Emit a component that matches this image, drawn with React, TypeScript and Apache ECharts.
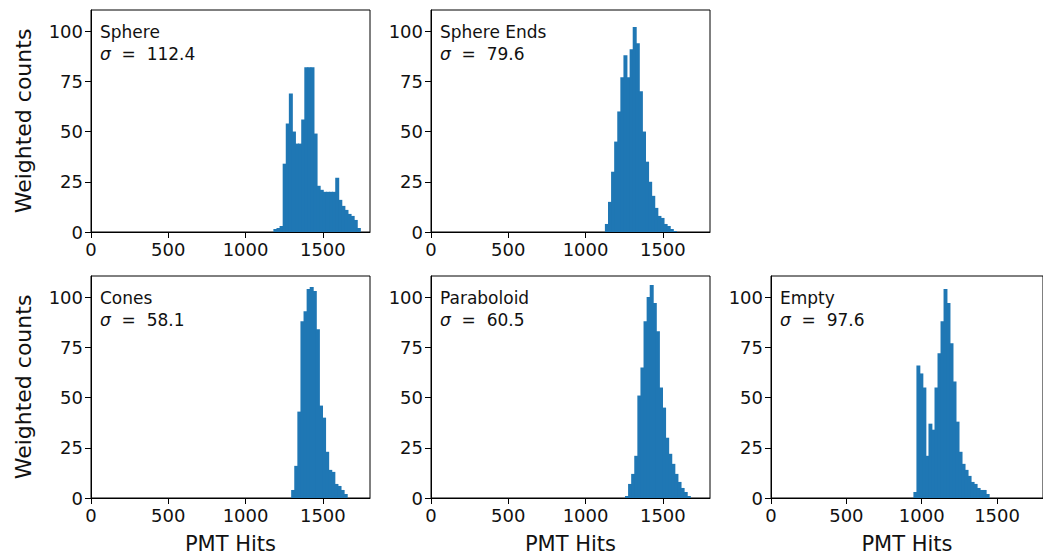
import React, { useEffect, useRef } from "react";
import * as echarts from "echarts";

// ---- data ----
const panelNames = ["Sphere", "Sphere Ends", "Cones", "Paraboloid", "Empty"];
const sigmaLabels = ["112.4", "79.6", "58.1", "60.5", "97.6"];

const BIN = 20;

const sphereEdges = [1180, 1200, 1220, 1240, 1260, 1280, 1300, 1320, 1340, 1360, 1380, 1400, 1420, 1440, 1460, 1480, 1500, 1520, 1540, 1560, 1580, 1600, 1620, 1640, 1660, 1680, 1700, 1720];
const sphereCounts = [1.5, 2, 3, 34, 54, 69, 50, 44, 44, 56, 82, 82, 82, 49, 23, 21, 20, 20, 20, 20, 27, 16, 13, 11, 9, 8, 6, 2];

const sphereEndsEdges = [1125, 1145, 1165, 1185, 1205, 1225, 1245, 1265, 1285, 1305, 1325, 1345, 1365, 1385, 1405, 1425, 1445, 1465, 1485, 1505, 1525, 1545, 1565];
const sphereEndsCounts = [4, 15, 30, 45, 60, 77, 88, 77, 91, 102, 94, 70, 50, 35, 25, 18, 12, 8, 7, 4, 3, 1.5, 0.5];

const conesEdges = [1295, 1315, 1335, 1355, 1375, 1395, 1415, 1435, 1455, 1475, 1495, 1515, 1535, 1555, 1575, 1595, 1615, 1635];
const conesCounts = [4, 16, 43, 88, 93, 104, 105, 103, 84, 46, 40, 23, 14, 13, 7, 6, 4, 2];

const paraboloidEdges = [1255, 1275, 1295, 1315, 1335, 1355, 1375, 1395, 1415, 1435, 1455, 1475, 1495, 1515, 1535, 1555, 1575, 1595, 1615, 1635, 1655];
const paraboloidCounts = [1, 7, 12, 21, 51, 65, 88, 100, 106, 97, 83, 55, 45, 30, 22, 17, 12, 8, 5, 3, 1];

const emptyEdges = [945, 965, 985, 1005, 1025, 1045, 1065, 1085, 1105, 1125, 1145, 1165, 1185, 1205, 1225, 1245, 1265, 1285, 1305, 1325, 1345, 1365, 1385, 1405, 1425];
const emptyCounts = [3, 66, 62, 55, 21, 37, 34, 55, 72, 88, 104, 97, 77, 58, 38, 23, 17, 14, 11, 8, 7, 5, 4, 4, 2];

const xTicks = [0, 500, 1000, 1500];
const yTicks = [0, 25, 50, 75, 100];
const X_MAX = 1805;
const Y_MAX = 110.5;

const xLabel = "PMT Hits";
const yLabel = "Weighted counts";

// ---- layout ----
const FONT = "DejaVu Sans";
const COLS = [91, 431, 771];
const ROWS = [10, 276];
const PW = 279;
const PH = 222;
const BAR = "#1f77b4";
const TXT = "#111";
const NB = "\u00a0";

const panels = [
  { edges: sphereEdges, counts: sphereCounts, col: 0, row: 0 },
  { edges: sphereEndsEdges, counts: sphereEndsCounts, col: 1, row: 0 },
  { edges: conesEdges, counts: conesCounts, col: 0, row: 1 },
  { edges: paraboloidEdges, counts: paraboloidCounts, col: 1, row: 1 },
  { edges: emptyEdges, counts: emptyCounts, col: 2, row: 1 },
];

export default function App() {
  const ref = useRef<HTMLDivElement>(null);
  useEffect(() => {
    if (!ref.current) return;
    const chart = echarts.init(ref.current, undefined, { renderer: "svg" });
    const grid = panels.map((p) => ({
      left: COLS[p.col],
      top: ROWS[p.row],
      width: PW,
      height: PH,
      show: true,
      borderColor: "#000",
      borderWidth: 1,
      backgroundColor: "transparent",
    }));
    const xAxis = panels.map((p, i) => ({
      gridIndex: i,
      type: "value",
      min: 0,
      max: X_MAX,
      z: 5,
      axisLine: { show: true, onZero: false, lineStyle: { color: "#000", width: 1 } },
      axisTick: { show: true, length: 6, lineStyle: { color: "#000", width: 1 }, customValues: xTicks },
      axisLabel: {
        customValues: xTicks,
        formatter: (v: number) => String(v),
        color: TXT,
        fontFamily: FONT,
        fontSize: 18,
        margin: 8,
      },
      splitLine: { show: false },
      name: p.row === 1 ? xLabel : "",
      nameLocation: "middle",
      nameGap: 35,
      nameTextStyle: { color: TXT, fontFamily: FONT, fontSize: 21 },
    }));
    const yAxis = panels.map((p, i) => ({
      gridIndex: i,
      type: "value",
      min: 0,
      max: Y_MAX,
      z: 5,
      axisLine: { show: true, onZero: false, lineStyle: { color: "#000", width: 1 } },
      axisTick: { show: true, length: 6, lineStyle: { color: "#000", width: 1 }, customValues: yTicks },
      axisLabel: {
        customValues: yTicks,
        formatter: (v: number) => String(v),
        color: TXT,
        fontFamily: FONT,
        fontSize: 18,
        margin: 8,
      },
      splitLine: { show: false },
      name: p.col === 0 ? yLabel : "",
      nameLocation: "middle",
      nameGap: 57,
      nameTextStyle: { color: TXT, fontFamily: FONT, fontSize: 22 },
    }));
    const series = panels.map((p, i) => ({
      type: "custom",
      xAxisIndex: i,
      yAxisIndex: i,
      z: 2,
      encode: { x: [0, 1], y: 2 },
      data: p.edges.map((e, k) => [e, e + BIN, p.counts[k]]),
      renderItem: (params: any, api: any) => {
        const p0 = api.coord([api.value(0), api.value(2)]);
        const p1 = api.coord([api.value(1), 0]);
        return {
          type: "rect",
          shape: { x: p0[0], y: p0[1], width: p1[0] - p0[0] + 0.9, height: p1[1] - p0[1] },
          style: { fill: BAR },
        };
      },
    }));
    const graphic = panels.map((p, i) => ({
      type: "text",
      x: COLS[p.col] + 9,
      y: ROWS[p.row] + 11,
      z: 10,
      style: {
        text: panelNames[i] + "\n{i|σ}" + NB + NB + "=" + NB + NB + sigmaLabels[i],
        fontFamily: FONT,
        fontSize: 17,
        lineHeight: 22,
        fill: TXT,
        rich: {
          i: { fontStyle: "italic", fontFamily: FONT, fontSize: 17, lineHeight: 22, fill: TXT },
        },
      },
    }));
    chart.setOption({
      animation: false,
      backgroundColor: "#fff",
      grid,
      xAxis,
      yAxis,
      series,
      graphic,
    } as any);
    return () => chart.dispose();
  }, []);
  return (
    <div
      ref={ref}
      style={{ position: "absolute", left: 0, top: 0, width: 1043, height: 558 }}
    />
  );
}
